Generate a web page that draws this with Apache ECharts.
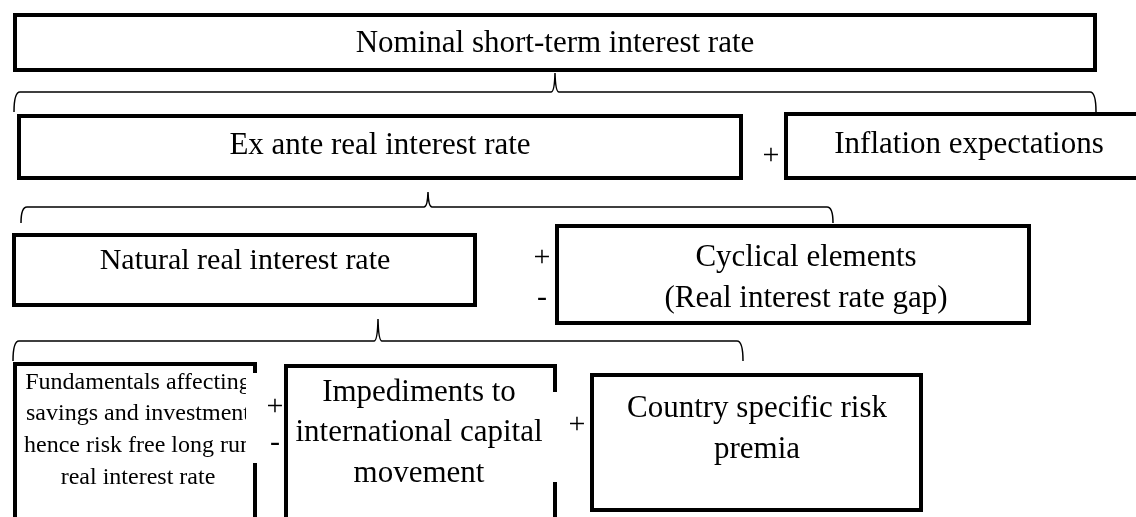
<!DOCTYPE html>
<html>
<head>
<meta charset="utf-8">
<script src="https://cdn.jsdelivr.net/npm/echarts@6/dist/echarts.min.js"></script>
<style>
  html, body { margin: 0; padding: 0; background: #ffffff; }
  #chart_diagram { width: 1136px; height: 517px; }
</style>
</head>
<body>
<div id="chart_diagram"></div>
<script>
  // box texts, top to bottom
  const boxLabels = [
    'Nominal short-term interest rate',
    'Ex ante real interest rate',
    'Inflation expectations',
    'Natural real interest rate',
    'Cyclical elements\n(Real interest rate gap)',
    'Fundamentals affecting\nsavings and investment\nhence risk free long run\nreal interest rate',
    'Impediments to\ninternational capital\nmovement',
    'Country specific risk\npremia'
  ];
  // operators between boxes
  const signLabels = ['+', '+', '-', '+', '-', '+'];

  // layout: outer box x0, y0, x1, y1, text x, text y, font size, line height
  const boxLayout = [
    [13, 13, 1097, 72, 555, 44, 31, 40],
    [17, 114, 743, 180, 380, 146, 31, 40],
    [784, 112, 1145, 180, 969, 145, 31, 40],
    [12, 233, 477, 307, 245, 261, 30, 40],
    [555, 224, 1031, 325, 806, 278, 31, 41],
    [13, 362, 257, 545, 138, 430, 24, 31.7],
    [284, 364, 557, 545, 419, 433, 31, 40.5],
    [590, 373, 923, 512, 757, 429, 31, 41]
  ];
  const signLayout = [[771, 156], [542, 258], [542, 298], [275, 407], [275, 443], [577, 425]];
  // brace: x0, x1, cusp x, line y, end y, cusp y
  const braceLayout = [
    [14, 1096, 555, 92, 112, 73],
    [21, 833, 428, 207, 223, 192],
    [13, 743, 378, 341, 361, 319]
  ];
  // white patches where the text frames cover the box borders
  const coverLayout = [[246, 373, 261, 463], [550, 392, 561, 482]];

  const FONT = '"Liberation Serif", "Times New Roman", serif';

  let myChart = echarts.init(document.getElementById('chart_diagram'));

  let option = {
    animation: false,
    backgroundColor: '#ffffff',
    grid: { left: 0, right: 0, top: 0, bottom: 0 },
    xAxis: { type: 'value', min: 0, max: 1136, show: false },
    yAxis: { type: 'value', min: 0, max: 517, inverse: true, show: false },
    series: [
      {
        // curly braces
        type: 'custom',
        silent: true,
        data: braceLayout,
        renderItem: function (params, api) {
          const b = braceLayout[params.dataIndex];
          const p = (x, y) => api.coord([x, y]);
          const s = p(b[0], b[4]), l1 = p(b[0] + 6, b[3]), c0 = p(b[0], b[3]);
          const m1 = p(b[2] - 4, b[3]), cm = p(b[2] - 0.5, b[3]), tip = p(b[2], b[5]);
          const m2 = p(b[2] + 4, b[3]), cm2 = p(b[2] + 0.5, b[3]);
          const r1 = p(b[1] - 6, b[3]), c1 = p(b[1], b[3]), e = p(b[1], b[4]);
          const d = 'M' + s + 'Q' + c0 + ' ' + l1 + 'L' + m1 + 'Q' + cm + ' ' + tip +
            'Q' + cm2 + ' ' + m2 + 'L' + r1 + 'Q' + c1 + ' ' + e;
          return {
            type: 'path',
            shape: { pathData: d.replace(/,/g, ' ') },
            style: { fill: null, stroke: '#000', lineWidth: 1.5 }
          };
        }
      },
      {
        // boxes
        type: 'custom',
        silent: true,
        data: boxLabels.map((t, i) => i),
        renderItem: function (params, api) {
          const i = params.dataIndex;
          const b = boxLayout[i];
          const a = api.coord([b[0], b[1]]);
          const c = api.coord([b[2], b[3]]);
          const t = api.coord([b[4], b[5]]);
          return {
            type: 'group',
            children: [
              {
                type: 'rect',
                shape: { x: a[0] + 2, y: a[1] + 2, width: c[0] - a[0] - 4, height: c[1] - a[1] - 4 },
                style: { fill: '#fff', stroke: '#000', lineWidth: 4 }
              },
              {
                type: 'text',
                style: {
                  text: boxLabels[i], x: t[0], y: t[1], fill: '#000',
                  font: b[6] + 'px ' + FONT, align: 'center', verticalAlign: 'middle',
                  lineHeight: b[7]
                }
              }
            ]
          };
        }
      },
      {
        // text frames hiding parts of the borders
        type: 'custom',
        silent: true,
        data: coverLayout,
        renderItem: function (params, api) {
          const r = coverLayout[params.dataIndex];
          const a = api.coord([r[0], r[1]]);
          const c = api.coord([r[2], r[3]]);
          return {
            type: 'rect',
            shape: { x: a[0], y: a[1], width: c[0] - a[0], height: c[1] - a[1] },
            style: { fill: '#fff' }
          };
        }
      },
      {
        // + / - operators
        type: 'custom',
        silent: true,
        data: signLabels.map((t, i) => i),
        renderItem: function (params, api) {
          const i = params.dataIndex;
          const pt = api.coord(signLayout[i]);
          return {
            type: 'text',
            style: {
              text: signLabels[i], x: pt[0], y: pt[1], fill: '#000',
              font: '30px ' + FONT, align: 'center', verticalAlign: 'middle'
            }
          };
        }
      }
    ]
  };
  myChart.setOption(option);
  window.addEventListener('resize', function () { myChart.resize(); });
</script>
</body>
</html>
